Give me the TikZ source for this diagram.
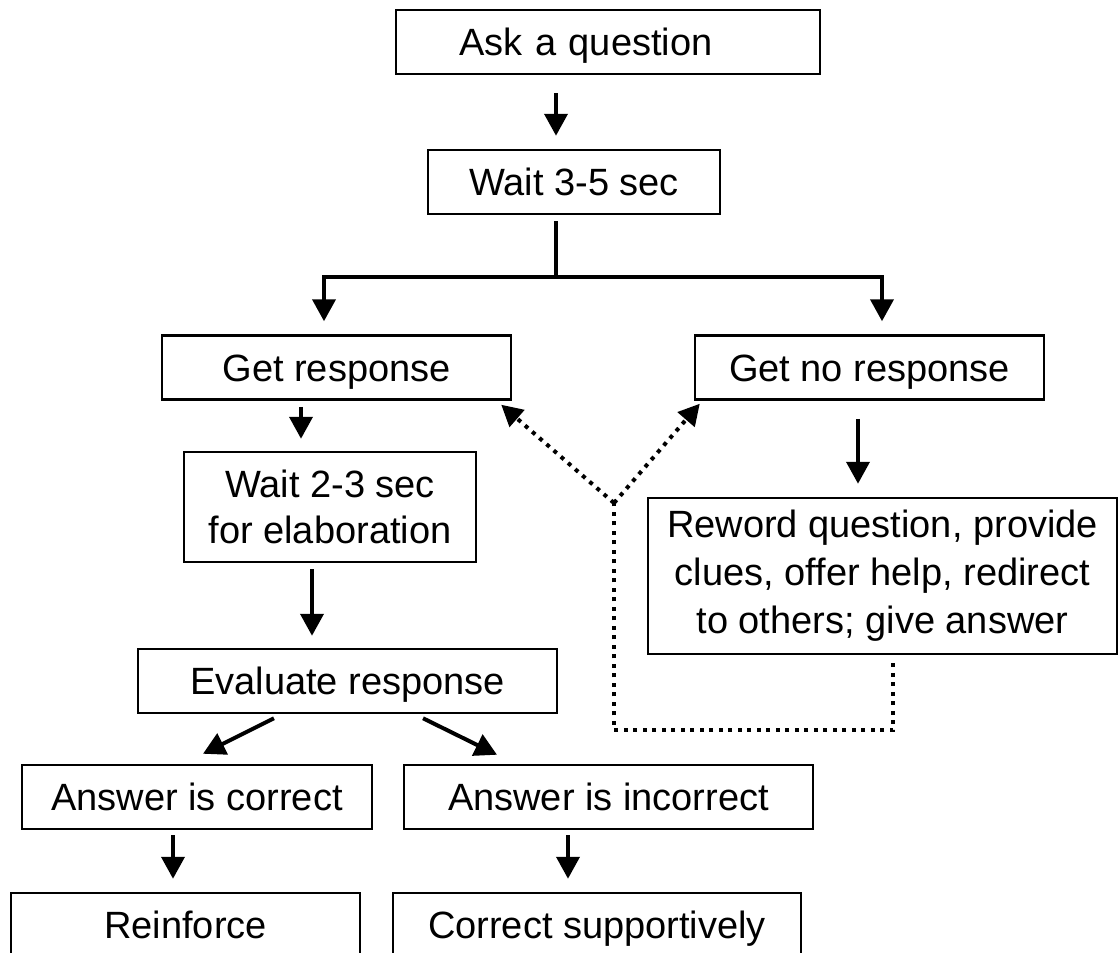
\documentclass[tikz,border=0pt]{standalone}
\usepackage{fontspec}
\setmainfont{Liberation Sans}
\usetikzlibrary{arrows.meta}

\begin{document}
\begin{tikzpicture}[
  x=1pt,y=-1pt,
  every node/.style={font=\fontsize{38}{46}\selectfont,align=center},
  box/.style={draw,line width=2.5pt,inner sep=0pt,minimum height=64pt},
  oneline/.style={box,text height=27pt,text depth=0pt},
  flow/.style={-{Triangle[length=22pt,width=23pt]},line width=4pt},
  link/.style={line width=4pt},
  hint/.style={line width=4pt,dash pattern=on 4pt off 5.5pt},
  hintflow/.style={hint,-{Triangle[length=21pt,width=22pt]}}
]
\useasboundingbox (0,0) rectangle (1120,953);
\clip (0,0) rectangle (1120,953);

\node[oneline,minimum width=424pt,text width=298pt,align=left] (ask) at (608,42) {Ask a question};
\node[oneline,minimum width=292pt] (wait) at (574,182) {Wait 3-5 sec};
\node[oneline,minimum width=349pt] (resp) at (336.5,367.5) {Get response};
\node[oneline,minimum width=349pt] (noresp) at (869.5,367.5) {Get no response};
\node[box,minimum width=292pt,minimum height=110pt] (pause) at (330,507) {Wait 2-3 sec\\for elaboration};
\node[box,minimum width=469pt,minimum height=156pt,font=\fontsize{38}{48}\selectfont] (reword) at (882.5,576) {Reword question, provide\\clues, offer help, redirect\\to others; give answer};
\node[oneline,minimum width=419pt] (eval) at (347.5,681) {Evaluate response};
\node[oneline,minimum width=350pt] (right) at (197,797) {Answer is correct};
\node[oneline,minimum width=409pt] (wrong) at (608.5,797) {Answer is incorrect};
\node[oneline,minimum width=349pt] (praise) at (185.5,925) {Reinforce};
\node[oneline,minimum width=408pt] (fix) at (597,925) {Correct supportively};

\coordinate (split) at (556,277);
\coordinate (fork) at (614,503);

\draw[flow,shorten <=18pt,shorten >=13pt] ([xshift=-52pt]ask.south) -- ([xshift=-52pt]ask.south |- wait.north);
\draw[link,shorten <=6pt] (wait.south -| split) -- (split);
\draw[flow,shorten >=13pt] (split) -| ([xshift=-12.5pt]resp.north);
\draw[flow,shorten >=13pt] (split) -| ([xshift=12.5pt]noresp.north);
\draw[flow,shorten <=6pt,shorten >=12pt] ([xshift=-35.5pt]resp.south) -- ([xshift=-35.5pt]resp.south |- pause.north);
\draw[flow,shorten <=18pt,shorten >=13pt] ([xshift=-11.5pt]noresp.south) -- ([xshift=-11.5pt]noresp.south |- reword.north);
\draw[flow,shorten <=6pt,shorten >=12pt] ([xshift=-18pt]pause.south) -- ([xshift=-18pt]pause.south |- eval.north);
\draw[flow] ([xshift=-73.5pt,yshift=-4pt]eval.south) -- ([xshift=6pt,yshift=10pt]right.north);
\draw[flow] ([xshift=75.5pt,yshift=-4pt]eval.south) -- ([xshift=-111.5pt,yshift=9pt]wrong.north);
\draw[flow,shorten <=5pt,shorten >=13pt] ([xshift=-24pt]right.south) -- ([xshift=-24pt]right.south |- praise.north);
\draw[flow,shorten <=5pt,shorten >=13pt] ([xshift=-40.5pt]wrong.south) -- ([xshift=-40.5pt]wrong.south |- fix.north);

\draw[hint,shorten <=8pt] ([xshift=10.5pt]reword.south) -- ++(0,75) -| (fork);
\draw[hintflow] (fork) -- ([xshift=-11pt,yshift=-4pt]resp.south east);
\draw[hintflow] (fork) -- ([xshift=6pt,yshift=-3pt]noresp.south west);
\end{tikzpicture}
\end{document}
